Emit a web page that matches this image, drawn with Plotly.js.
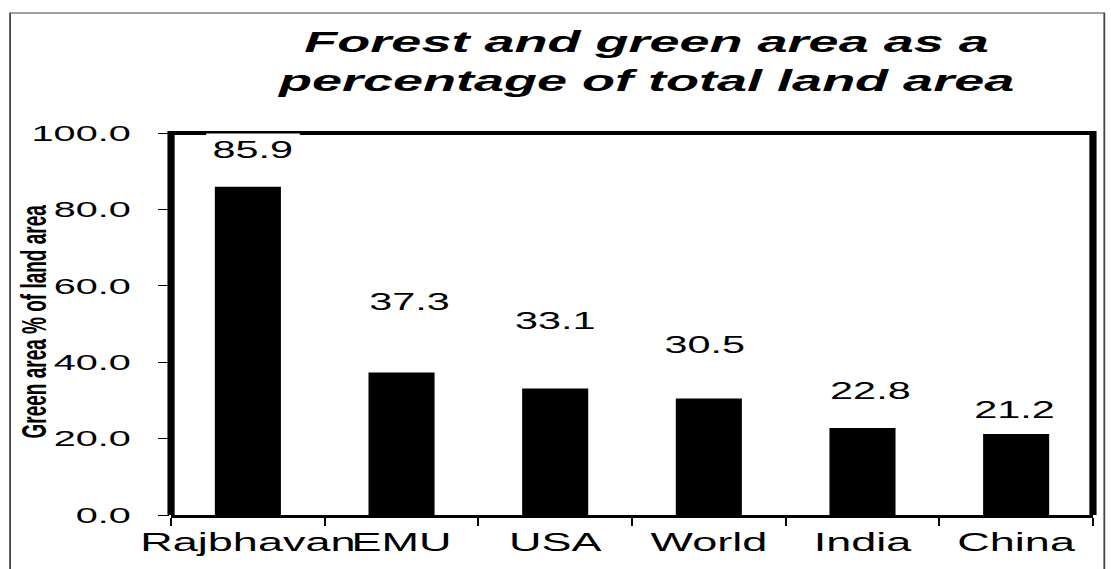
<!DOCTYPE html>
<html>
<head>
<meta charset="utf-8">
<script src="https://cdn.plot.ly/plotly-3.0.1.min.js"></script>
<style>
  html, body { margin: 0; padding: 0; background: #fff; overflow: hidden; }
  /* the chart is laid out narrow and widened, giving its broad lettering */
  #chart { width: 617px; height: 569px; transform: scale(1.8006, 1); transform-origin: 0 0; }
</style>
</head>
<body>
<div id="chart"></div>
<script>
// Forest / green cover, % of total land area
const categories = ['Rajbhavan', 'EMU', 'USA', 'World', 'India', 'China'];
const greenShare = [85.9, 37.3, 33.1, 30.5, 22.8, 21.2];
const yTicks = [0, 20, 40, 60, 80, 100];

// label placement above each bar, in pixels
const labelLift = [37, 71, 68, 53, 37, 24];
const labelNudge = [3, 4, 0, -2, 4, -1];

const W = 617, H = 569;
const M = { l: 95, r: 10, t: 133, b: 54 };
const plotW = W - M.l - M.r, plotH = H - M.t - M.b;
const px2x = p => (p - M.l) / plotW;
const py2y = p => (H - M.b - p) / plotH;

const FONT = 'Liberation Sans, Arial, sans-serif';

const trace = {
  type: 'bar',
  x: categories,
  y: greenShare,
  width: 0.43,
  marker: { color: '#000000', line: { width: 0 } },
  hoverinfo: 'x+y'
};

const annotations = categories.map((c, i) => ({
  x: c, y: greenShare[i], xref: 'x', yref: 'y',
  text: greenShare[i].toFixed(1),
  showarrow: false,
  yanchor: 'middle',
  yshift: labelLift[i],
  xshift: labelNudge[i],
  bgcolor: '#ffffff',
  borderpad: 3,
  font: { family: FONT, size: 23, color: '#000' }
}));

// vertical axis caption
annotations.push({
  xref: 'paper', yref: 'paper',
  x: px2x(18.5), y: py2y(322),
  xanchor: 'center', yanchor: 'middle',
  text: 'Green area % of land area',
  textangle: -90,
  showarrow: false,
  font: { family: FONT, size: 19, weight: 'bold', color: '#000' }
});

const layout = {
  width: W, height: H,
  margin: M,
  paper_bgcolor: '#fff',
  plot_bgcolor: '#fff',
  showlegend: false,
  title: {
    text: 'Forest and green area as a<br>percentage of total land area',
    font: { family: FONT, size: 30, weight: 'bold', style: 'italic', color: '#000' },
    xref: 'container', x: 0.582, xanchor: 'center',
    yref: 'container', y: 1 - 52 / H, yanchor: 'middle'
  },
  xaxis: {
    type: 'category',
    tickson: 'boundaries',
    tickangle: 0,
    ticks: 'outside', ticklen: 8, tickwidth: 1, tickcolor: '#000',
    showline: true, linecolor: '#000', linewidth: 2.5,
    showgrid: false, zeroline: false,
    tickfont: { family: FONT, size: 25, color: '#000' },
    ticklabelstandoff: 4,
    fixedrange: true
  },
  yaxis: {
    range: [0, 100],
    tickvals: yTicks,
    tickformat: '.1f',
    ticks: 'outside', ticklen: 6, tickwidth: 1, tickcolor: '#000',
    showline: false, showgrid: false, zeroline: false,
    tickfont: { family: FONT, size: 22, color: '#000' },
    ticklabelstandoff: 11,
    fixedrange: true
  },
  shapes: [
    // heavy frame on left, top and right of the plot area
    {
      type: 'path', xref: 'paper', yref: 'paper',
      path: 'M0,0 L0,1 L1,1 L1,0',
      line: { color: '#000', width: 4 }, layer: 'below'
    },
    // thin outer border of the whole figure
    {
      type: 'rect', xref: 'paper', yref: 'paper',
      x0: px2x(5.6), x1: px2x(613.3), y0: py2y(600), y1: py2y(13),
      line: { color: '#444', width: 1 }, layer: 'below'
    }
  ],
  annotations: annotations,
  bargap: 0.57
};

Plotly.newPlot('chart', [trace], layout, { displayModeBar: false, staticPlot: true });
</script>
</body>
</html>
